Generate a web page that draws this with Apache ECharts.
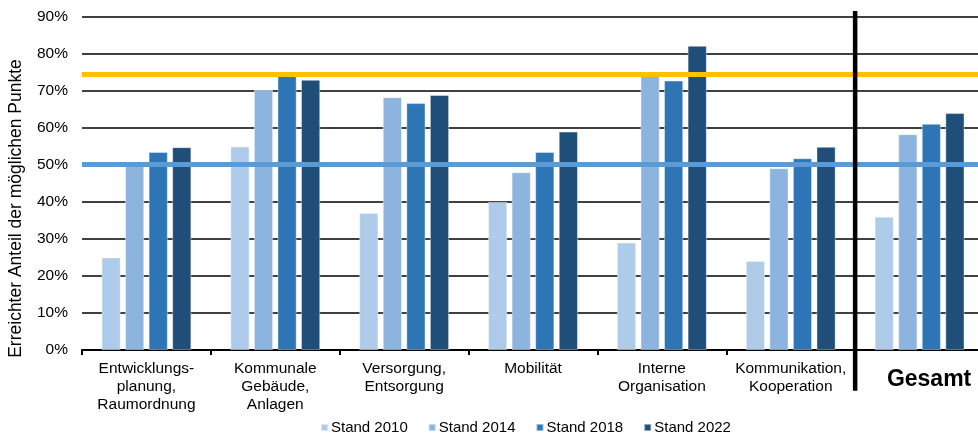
<!DOCTYPE html>
<html>
<head>
<meta charset="utf-8">
<script src="https://cdn.jsdelivr.net/npm/echarts@6/dist/echarts.min.js"></script>
<style>
html,body{margin:0;padding:0;background:#fff;}
#chart{width:978px;height:434px;}
</style>
</head>
<body>
<div id="chart"></div>
<script>
const categories = ['Entwicklungs-\nplanung,\nRaumordnung', 'Kommunale\nGebäude,\nAnlagen', 'Versorgung,\nEntsorgung', 'Mobilität', 'Interne\nOrganisation', 'Kommunikation,\nKooperation', 'Gesamt'];
const seriesNames = ['Stand 2010', 'Stand 2014', 'Stand 2018', 'Stand 2022'];
const stand2010 = [25, 55, 37, 40, 29, 24, 36];
const stand2014 = [50, 70.3, 68.3, 48, 74.5, 49.1, 58.3];
const stand2018 = [53.5, 74, 66.7, 53.5, 72.8, 51.8, 61.1];
const stand2022 = [54.8, 73, 68.9, 59, 82.2, 54.9, 64];
const yTicks = [0, 10, 20, 30, 40, 50, 60, 70, 80, 90];
const yellowLine = 74.6;
const blueLine = 50.3;
const separator = [[6, 91.6, -11]]; // category boundary before "Gesamt", from top to below axis

const colors = ['#afcbea', '#8cb4df', '#2e75b6', '#1f4e79'];
const values = [stand2010, stand2014, stand2018, stand2022];
const FONT = '"Liberation Sans", Arial, sans-serif';

const chart = echarts.init(document.getElementById('chart'), null, {renderer: 'canvas'});

const barSeries = values.map((v, i) => ({
  name: seriesNames[i],
  type: 'bar',
  data: v,
  barWidth: 19,
  barGap: '24%',
  itemStyle: {color: colors[i], borderColor: 'rgba(255,255,255,0.5)', borderWidth: 0.8},
  z: 2
}));

barSeries[3].markLine = {
  silent: true,
  symbol: 'none',
  label: {show: false},
  z: 5,
  data: [
    {yAxis: yellowLine, lineStyle: {color: '#ffc000', width: 5, type: 'solid'}},
    {yAxis: blueLine, lineStyle: {color: '#5b9bd5', width: 5, type: 'solid'}}
  ]
};

const option = {
  animation: false,
  textStyle: {fontFamily: FONT},
  grid: {left: 82, right: -6, top: 17, bottom: 84, containLabel: false, outerBoundsMode: 'none'},
  legend: {
    data: seriesNames,
    left: 315,
    top: 415,
    icon: 'rect',
    itemWidth: 7,
    itemHeight: 7,
    itemGap: 20,
    textStyle: {fontSize: 15, color: '#000', fontFamily: FONT, padding: [0, 0, 0, -2]}
  },
  xAxis: [{
    type: 'category',
    data: categories,
    axisLine: {lineStyle: {color: '#000', width: 2}},
    axisTick: {show: true, interval: 0, length: 5, lineStyle: {color: '#000', width: 2}},
    axisLabel: {
      interval: 0,
      margin: 10,
      color: '#000',
      fontSize: 15.5,
      lineHeight: 18,
      fontFamily: FONT,
      formatter: v => v === 'Gesamt' ? '{g|Gesamt}' : v,
      rich: {g: {fontSize: 23, fontWeight: 'bold', lineHeight: 26, padding: [14, 0, 0, 19], color: '#000', fontFamily: FONT}}
    },
    splitLine: {show: false}
  }, {
    type: 'value',
    min: 0,
    max: 7,
    show: false
  }],
  yAxis: {
    type: 'value',
    min: yTicks[0],
    max: yTicks[yTicks.length - 1],
    interval: 10,
    name: 'Erreichter Anteil der möglichen Punkte',
    nameLocation: 'middle',
    nameGap: 57,
    nameTextStyle: {fontSize: 17.5, color: '#000', fontFamily: FONT, padding: [0, 50, 0, 0]},
    axisLine: {show: false},
    axisTick: {show: false},
    axisLabel: {formatter: '{value}%', color: '#000', fontSize: 15.5, margin: 14, fontFamily: FONT},
    splitLine: {lineStyle: {color: '#000', width: 1.5}}
  },
  series: [
    ...barSeries,
    {
      type: 'custom',
      xAxisIndex: 1,
      yAxisIndex: 0,
      silent: true,
      clip: false,
      z: 10,
      data: separator,
      renderItem: (params, api) => {
        const p1 = api.coord([api.value(0), api.value(1)]);
        const p2 = api.coord([api.value(0), api.value(2)]);
        return {type: 'line', shape: {x1: p1[0], y1: p1[1], x2: p2[0], y2: p2[1]}, style: {stroke: '#000', lineWidth: 4.5}};
      }
    }
  ]
};
chart.setOption(option);
</script>
</body>
</html>
